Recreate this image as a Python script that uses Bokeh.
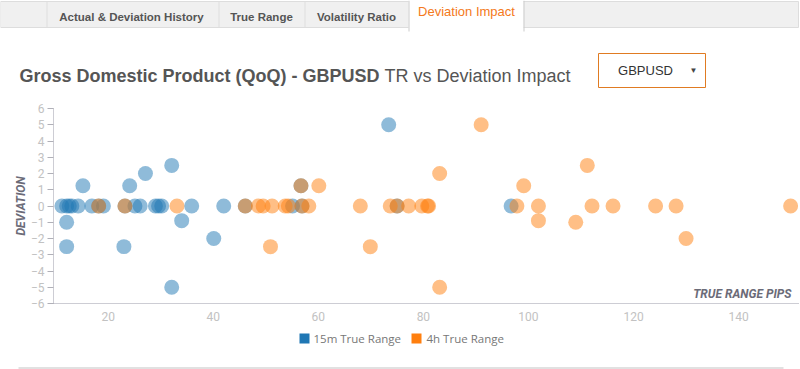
from math import pi
from bokeh.plotting import figure
from bokeh.layouts import column, row
from bokeh.models import Range1d, FixedTicker, Label, BoxAnnotation
from bokeh.embed import file_html
from bokeh.resources import INLINE

# ---------------- data ----------------
series_names = ["15m True Range", "4h True Range"]
tab_labels = ["Actual & Deviation History", "True Range", "Volatility Ratio", "Deviation Impact"]
title_bold = "Gross Domestic Product (QoQ) - GBPUSD"
title_rest = "TR vs Deviation Impact"
symbol = "GBPUSD"
x_title = "TRUE RANGE PIPS"
y_title = "DEVIATION"
x_ticks = [20, 40, 60, 80, 100, 120, 140]
y_ticks = [-6, -5, -4, -3, -2, -1, 0, 1, 2, 3, 4, 5, 6]

tr15_pips = [11.2, 12.1, 12.6, 13.1, 14.3, 16.9, 18.2, 19.1, 23.2, 25.1, 26.1, 29.0,
             29.6, 30.2, 35.9, 42.0, 46.1, 55.1, 56.9, 75.0, 96.7,
             15.2, 12.1, 12.1, 24.1, 23.0, 27.1, 32.1, 34.0, 40.1, 32.1, 73.4, 56.7]
tr15_dev = [0, 0, 0, 0, 0, 0, 0, 0, 0, 0, 0, 0,
            0, 0, 0, 0, 0, 0, 0, 0, 0,
            1.25, -1.0, -2.5, 1.25, -2.5, 2.0, 2.5, -0.9, -2.0, -5.0, 5.0, 1.25]

tr4h_pips = [18.2, 23.2, 33.1, 46.1, 48.6, 49.5, 51.2, 53.7, 54.3, 56.9, 58.2, 68.0,
             73.7, 75.0, 77.2, 79.7, 80.8, 81.0, 97.8, 101.9, 112.1, 116.1, 124.2,
             128.1, 149.9,
             50.9, 56.7, 60.1, 69.9, 83.1, 83.1, 91.0, 99.1, 101.9, 109.0, 111.2, 130.0]
tr4h_dev = [0, 0, 0, 0, 0, 0, 0, 0, 0, 0, 0, 0,
            0, 0, 0, 0, 0, 0, 0, 0, 0, 0, 0,
            0, 0,
            -2.5, 1.25, 1.25, -2.5, 2.0, -5.0, 5.0, 1.25, -0.9, -1.0, 2.5, -2.0]

BLUE = "#1f77b4"
ORANGE = "#ff7f0e"
ACCENT = "#f47920"
W = 800
HEAD_H = 100
MAIN_H = 231
FOOT_H = 38


def bare_fig(h, y0):
    f = figure(width=W, height=h, output_backend="svg", toolbar_location=None,
               x_range=Range1d(0, W), y_range=Range1d(y0 + h, y0),
               x_axis_location=None, y_axis_location=None,
               min_border=0, min_border_left=0, min_border_right=0,
               min_border_top=0, min_border_bottom=0)
    f.outline_line_color = None
    f.xgrid.visible = False
    f.ygrid.visible = False
    f.border_fill_color = "white"
    f.background_fill_color = "white"
    return f


def box(f, l, r, t, b, fill, line=None):
    f.add_layout(BoxAnnotation(left=l, right=r, top=t, bottom=b,
                               fill_color=fill, fill_alpha=1,
                               line_color=line if line else fill,
                               line_alpha=1 if line else 0))


def lab(f, text, x, y, size, color, font="Liberation Sans", style="normal",
        align="left", baseline="middle", angle=0):
    f.add_layout(Label(x=x, y=y, text=text, text_font=font, text_font_size=size,
                       text_color=color, text_font_style=style, text_align=align,
                       text_baseline=baseline, angle=angle))


# ---------------- header ----------------
head = bare_fig(HEAD_H, 0)
box(head, 0, 798, 1, 27, "#f0f0f0", "#dddddd")
for sx in (46, 218, 304):
    box(head, sx, sx + 1, 1, 27, "#dddddd")
box(head, 408, 523, 0, 31, "white")
box(head, 408, 409, 0, 31, "#cccccc")
box(head, 523, 524, 0, 31, "#cccccc")
lab(head, tab_labels[0], 131, 16, "11.5px", "#555555", style="bold", align="center")
lab(head, tab_labels[1], 261, 16, "11.5px", "#555555", style="bold", align="center")
lab(head, tab_labels[2], 356, 16, "11.5px", "#555555", style="bold", align="center")
lab(head, tab_labels[3], 466, 11, "13px", ACCENT, align="center")
lab(head, title_bold, 19, 75, "18px", "#555555", style="bold", baseline="alphabetic")
lab(head, title_rest, 384, 75, "18px", "#555555", baseline="alphabetic")
box(head, 598, 705, 53, 87, "white", "#e07b22")
lab(head, symbol, 645, 70, "13px", "#333333", align="center")
lab(head, "\u25BC", 693, 70, "8px", "#444444", align="center")

# ---------------- main plot ----------------
p = figure(width=W, height=MAIN_H, output_backend="svg", toolbar_location=None,
           x_range=Range1d(9.6, 151.4), y_range=Range1d(-6, 6),
           min_border_left=53, min_border_right=2, min_border_top=8,
           min_border_bottom=28)
p.outline_line_color = None
p.xgrid.visible = False
p.ygrid.visible = False
p.background_fill_color = "white"
p.border_fill_color = "white"

for ax in (p.xaxis[0], p.yaxis[0]):
    ax.axis_line_color = "#9a9aa8"
    ax.axis_line_dash = "1 1"
    ax.minor_tick_line_color = None
    ax.major_label_text_font = "Roboto"
    ax.major_label_text_font_size = "12px"
    ax.major_label_text_color = "#c2c2c2"
p.xaxis.ticker = FixedTicker(ticks=x_ticks)
p.yaxis.ticker = FixedTicker(ticks=y_ticks)
p.xaxis.major_tick_line_color = None
p.xaxis.major_tick_out = 0
p.xaxis.major_label_standoff = 8
p.yaxis.major_tick_out = 6
p.yaxis.major_tick_in = 0
p.yaxis.major_tick_line_color = "#b0b0b8"
p.yaxis.major_label_standoff = 3
p.yaxis.axis_label = y_title
p.yaxis.axis_label_text_font = "Roboto"
p.yaxis.axis_label_text_font_size = "12px"
p.yaxis.axis_label_text_font_style = "bold italic"
p.yaxis.axis_label_text_color = "#6b6b78"
p.yaxis.axis_label_standoff = 0

p.scatter(tr15_pips, tr15_dev, size=15, fill_color=BLUE, fill_alpha=0.5, line_color=None)
p.scatter(tr4h_pips, tr4h_dev, size=15, fill_color=ORANGE, fill_alpha=0.5, line_color=None)
p.add_layout(Label(x=151.4, y=-6, x_offset=-7, y_offset=10, text=x_title,
                   text_font="Roboto", text_font_size="12px",
                   text_font_style="bold italic", text_color="#6b6b78",
                   text_align="right", text_baseline="middle"))

# ---------------- footer with legend ----------------
foot = bare_fig(FOOT_H, HEAD_H + MAIN_H)
box(foot, 299, 309, 333, 343, BLUE)
lab(foot, series_names[0], 313, 338, "11.5px", "#777777", font="Open Sans")
box(foot, 411, 421, 333, 343, ORANGE)
lab(foot, series_names[1], 426, 338, "11.5px", "#777777", font="Open Sans")
box(foot, 18, 783, 367, 368, "#c4c4c4")

layout = column(row(head), p, row(foot), spacing=0)
open("out.html", "w").write(file_html(layout, INLINE))
